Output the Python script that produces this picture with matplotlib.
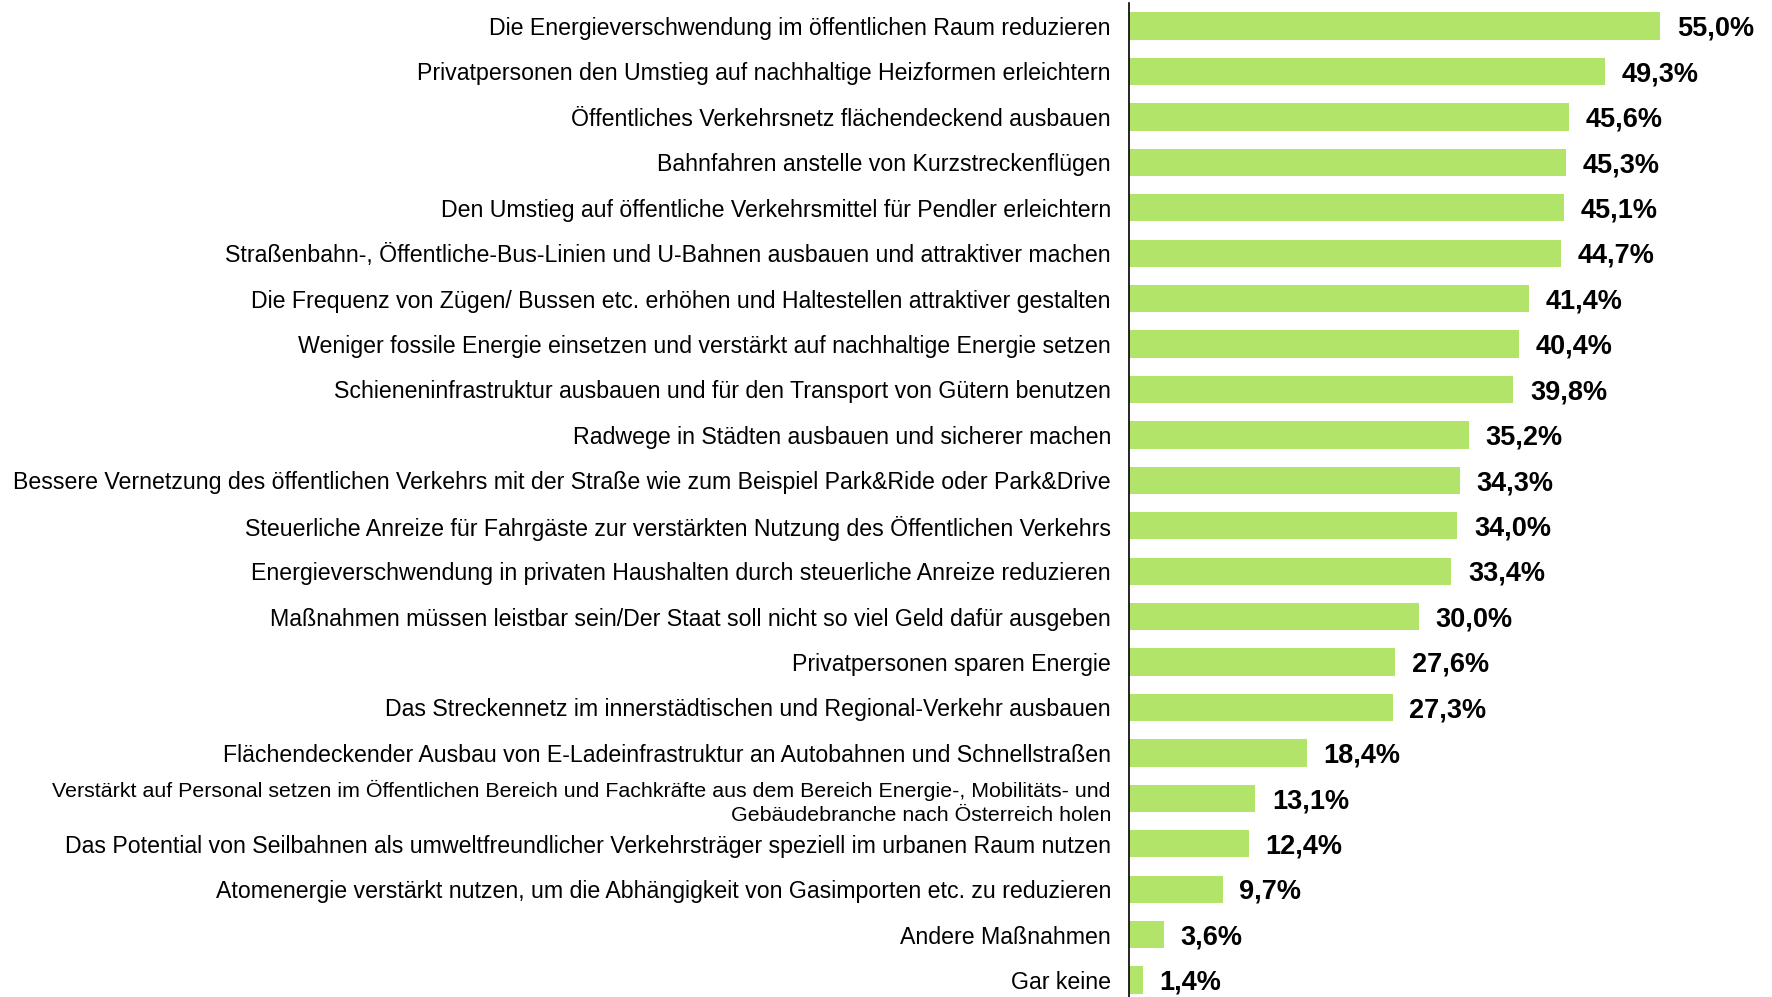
import matplotlib.pyplot as plt

plt.rcParams['font.family'] = ['Liberation Sans', 'DejaVu Sans']

massnahmen = [
    "Die Energieverschwendung im öffentlichen Raum reduzieren",
    "Privatpersonen den Umstieg auf nachhaltige Heizformen erleichtern",
    "Öffentliches Verkehrsnetz flächendeckend ausbauen",
    "Bahnfahren anstelle von Kurzstreckenflügen",
    "Den Umstieg auf öffentliche Verkehrsmittel für Pendler erleichtern",
    "Straßenbahn-, Öffentliche-Bus-Linien und U-Bahnen ausbauen und attraktiver machen",
    "Die Frequenz von Zügen/ Bussen etc. erhöhen und Haltestellen attraktiver gestalten",
    "Weniger fossile Energie einsetzen und verstärkt auf nachhaltige Energie setzen",
    "Schieneninfrastruktur ausbauen und für den Transport von Gütern benutzen",
    "Radwege in Städten ausbauen und sicherer machen",
    "Bessere Vernetzung des öffentlichen Verkehrs mit der Straße wie zum Beispiel Park&Ride oder Park&Drive",
    "Steuerliche Anreize für Fahrgäste zur verstärkten Nutzung des Öffentlichen Verkehrs",
    "Energieverschwendung in privaten Haushalten durch steuerliche Anreize reduzieren",
    "Maßnahmen müssen leistbar sein/Der Staat soll nicht so viel Geld dafür ausgeben",
    "Privatpersonen sparen Energie",
    "Das Streckennetz im innerstädtischen und Regional-Verkehr ausbauen",
    "Flächendeckender Ausbau von E-Ladeinfrastruktur an Autobahnen und Schnellstraßen",
    "Verstärkt auf Personal setzen im Öffentlichen Bereich und Fachkräfte aus dem Bereich Energie-, Mobilitäts- und\nGebäudebranche nach Österreich holen",
    "Das Potential von Seilbahnen als umweltfreundlicher Verkehrsträger speziell im urbanen Raum nutzen",
    "Atomenergie verstärkt nutzen, um die Abhängigkeit von Gasimporten etc. zu reduzieren",
    "Andere Maßnahmen",
    "Gar keine",
]
anteil = [55.0, 49.3, 45.6, 45.3, 45.1, 44.7, 41.4, 40.4, 39.8, 35.2, 34.3,
          34.0, 33.4, 30.0, 27.6, 27.3, 18.4, 13.1, 12.4, 9.7, 3.6, 1.4]

fig = plt.figure(figsize=(17.72, 9.97), dpi=100)
ax = fig.add_axes([1129 / 1772, 0, 1 - 1129 / 1772, 994 / 997])

pos = list(range(len(anteil)))
bars = ax.barh(pos, anteil, height=0.6, color='#b2e46a')

for y, v in zip(pos, anteil):
    ax.annotate(f"{v:.1f}%".replace('.', ','), xy=(v, y), xytext=(12, -2),
                textcoords='offset points', va='center', ha='left',
                fontsize=19.5, fontweight='bold')

ax.set_yticks(pos)
ax.set_yticklabels(massnahmen, fontsize=16.7)
ax.tick_params(axis='y', length=0, pad=13)
# zweizeilige Beschriftung etwas kleiner, damit sie ins Bild passt
lab2 = ax.get_yticklabels()[17]
lab2.set_fontsize(15.4)
lab2.set_linespacing(1.3)
ax.set_xticks([])
ax.set_xlim(0, 66.6)
ax.set_ylim(21.374, -0.507)

for s in ['top', 'right', 'bottom']:
    ax.spines[s].set_visible(False)
ax.spines['left'].set_color('black')
ax.spines['left'].set_linewidth(1.2)

fig.savefig('out.png', dpi=100)
